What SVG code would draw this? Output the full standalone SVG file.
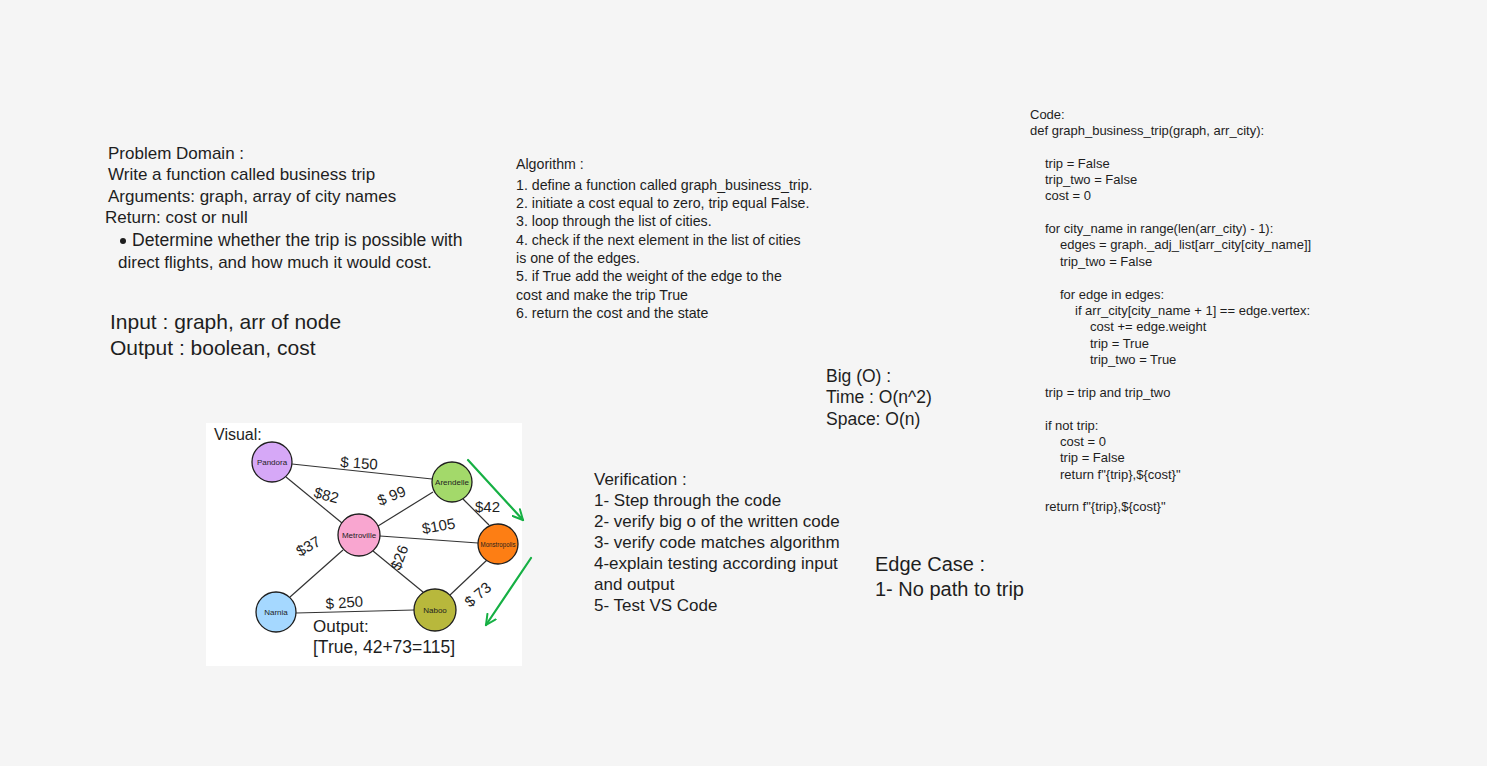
<svg xmlns="http://www.w3.org/2000/svg" width="1487" height="766" viewBox="0 0 1487 766">
<defs>
<style>
text{font-family:"Liberation Sans","DejaVu Sans",sans-serif;fill:#1e1e1e}
.pd{font-size:17px}
.io{font-size:21px}
.al{font-size:14.2px}
.cd{font-size:13px}
.bo{font-size:17.5px}
.vf{font-size:17px}
.ec{font-size:20px}
.nd{stroke:#1e1e1e;stroke-width:1.3}
.nl{font-size:8px;text-anchor:middle}
.el{font-size:15px}
.edge{stroke:#333;stroke-width:1.2;fill:none}
.arrow{stroke:#16b044;stroke-width:2.2;fill:none;stroke-linecap:round}
</style>
<marker id="ah" viewBox="0 0 12 12" refX="11" refY="6" markerWidth="12" markerHeight="12" markerUnits="userSpaceOnUse" orient="auto">
<path d="M1,1 L11,6 L1,11" fill="none" stroke="#16b044" stroke-width="2" stroke-linecap="round"/>
</marker>
</defs>
<rect width="1487" height="766" fill="#f5f5f5"/>

<g id="problem-domain" class="pd">
<text x="108" y="159">Problem Domain :</text>
<text x="108" y="180">Write a function called business trip</text>
<text x="108" y="202">Arguments: graph, array of city names</text>
<text x="105" y="223">Return: cost or null</text>
<circle cx="123" cy="241" r="3" fill="#1e1e1e"/>
<text x="132" y="246" font-size="17.6">Determine whether the trip is possible with</text>
<text x="118" y="268">direct flights, and how much it would cost.</text>
</g>

<g id="input-output" class="io">
<text x="110" y="329">Input : graph, arr of node</text>
<text x="110" y="355">Output : boolean, cost</text>
</g>

<g id="algorithm" class="al">
<text x="516" y="169">Algorithm :</text>
<text x="516" y="190">1. define a function called graph_business_trip.</text>
<text x="516" y="208">2. initiate a cost equal to zero, trip equal False.</text>
<text x="516" y="226">3. loop through the list of cities.</text>
<text x="516" y="245">4. check if the next element in the list of cities</text>
<text x="516" y="263">is one of the edges.</text>
<text x="516" y="281">5. if True add the weight of the edge to the</text>
<text x="516" y="300">cost and make the trip True</text>
<text x="516" y="318">6. return the cost and the state</text>
</g>

<g id="code" class="cd">
<text x="1030" y="119">Code:</text>
<text x="1030" y="135">def graph_business_trip(graph, arr_city):</text>
<text x="1045" y="168">trip = False</text>
<text x="1045" y="184">trip_two = False</text>
<text x="1045" y="200">cost = 0</text>
<text x="1045" y="233">for city_name in range(len(arr_city) - 1):</text>
<text x="1060" y="249">edges = graph._adj_list[arr_city[city_name]]</text>
<text x="1060" y="266">trip_two = False</text>
<text x="1060" y="299">for edge in edges:</text>
<text x="1075" y="315">if arr_city[city_name + 1] == edge.vertex:</text>
<text x="1090" y="331">cost += edge.weight</text>
<text x="1090" y="348">trip = True</text>
<text x="1090" y="364">trip_two = True</text>
<text x="1045" y="397">trip = trip and trip_two</text>
<text x="1045" y="430">if not trip:</text>
<text x="1060" y="446">cost = 0</text>
<text x="1060" y="462">trip = False</text>
<text x="1060" y="479">return f"{trip},${cost}"</text>
<text x="1045" y="511">return f"{trip},${cost}"</text>
</g>

<g id="big-o" class="bo">
<text x="826" y="382">Big (O) :</text>
<text x="826" y="403">Time : O(n^2)</text>
<text x="826" y="425">Space: O(n)</text>
</g>

<g id="verification" class="vf">
<text x="594" y="485">Verification :</text>
<text x="594" y="506">1- Step through the code</text>
<text x="594" y="527">2- verify big o of the written code</text>
<text x="594" y="548">3- verify code matches algorithm</text>
<text x="594" y="569">4-explain testing according input</text>
<text x="594" y="590">and output</text>
<text x="594" y="611">5- Test VS Code</text>
</g>

<g id="edge-case" class="ec">
<text x="875" y="571">Edge Case :</text>
<text x="875" y="596">1- No path to trip</text>
</g>

<g id="visual">
<rect x="206" y="423" width="316" height="243" fill="#ffffff"/>
<text x="214" y="440" font-size="16">Visual:</text>
<text x="313" y="632" font-size="17">Output:</text>
<text x="313" y="653" font-size="17.5">[True, 42+73=115]</text>
</g>

<g id="connectors">
<line class="edge" x1="292" y1="464" x2="432" y2="479"/>
<line class="edge" x1="286" y1="477" x2="342" y2="523"/>
<line class="edge" x1="378" y1="526" x2="433" y2="492"/>
<line class="edge" x1="380" y1="536" x2="478" y2="543"/>
<line class="edge" x1="463" y1="499" x2="489" y2="525"/>
<line class="edge" x1="343" y1="550" x2="290" y2="597"/>
<line class="edge" x1="373" y1="551" x2="423" y2="592"/>
<line class="edge" x1="487" y1="560" x2="450" y2="595"/>
<line class="edge" x1="296" y1="613" x2="414" y2="610"/>
<line class="arrow" x1="468" y1="460" x2="523" y2="520" marker-end="url(#ah)"/>
<line class="arrow" x1="531" y1="558" x2="486" y2="625" marker-end="url(#ah)"/>
<text class="el" x="340" y="467" transform="rotate(4 340 467)">$ 150</text>
<text class="el" x="313" y="497" transform="rotate(15 313 497)">$82</text>
<text class="el" x="380" y="506" transform="rotate(-22 380 506)">$ 99</text>
<text class="el" x="423" y="534" transform="rotate(-10 423 534)">$105</text>
<text class="el" x="475" y="512">$42</text>
<text class="el" x="300" y="557" transform="rotate(-30 300 557)">$37</text>
<text class="el" x="400" y="571" transform="rotate(-70 400 571)">$26</text>
<text class="el" x="470" y="608" transform="rotate(-40 470 608)">$ 73</text>
<text class="el" x="326" y="609" transform="rotate(-4 326 609)">$ 250</text>
</g>

<g id="node-pandora">
<circle class="nd" cx="272" cy="462" r="20" fill="#d6a8f7"/>
<text class="nl" x="272" y="465">Pandora</text>
</g>
<g id="node-arendelle">
<circle class="nd" cx="452" cy="482" r="20" fill="#a3d96a"/>
<text class="nl" x="452" y="485" font-size="7">Arendelle</text>
</g>
<g id="node-metroville">
<circle class="nd" cx="359" cy="535" r="21" fill="#f9a6d0"/>
<text class="nl" x="359" y="538" font-size="7">Metroville</text>
</g>
<g id="node-monstropolis">
<circle class="nd" cx="498" cy="544" r="20" fill="#fd7e14"/>
<text class="nl" x="498" y="546.5" font-size="7" textLength="35" lengthAdjust="spacingAndGlyphs">Monstropolis</text>
</g>
<g id="node-narnia">
<circle class="nd" cx="276" cy="612" r="20" fill="#a5d8ff"/>
<text class="nl" x="276" y="615">Narnia</text>
</g>
<g id="node-naboo">
<circle class="nd" cx="435" cy="610" r="21" fill="#b8b83c"/>
<text class="nl" x="435" y="613">Naboo</text>
</g>
</svg>
